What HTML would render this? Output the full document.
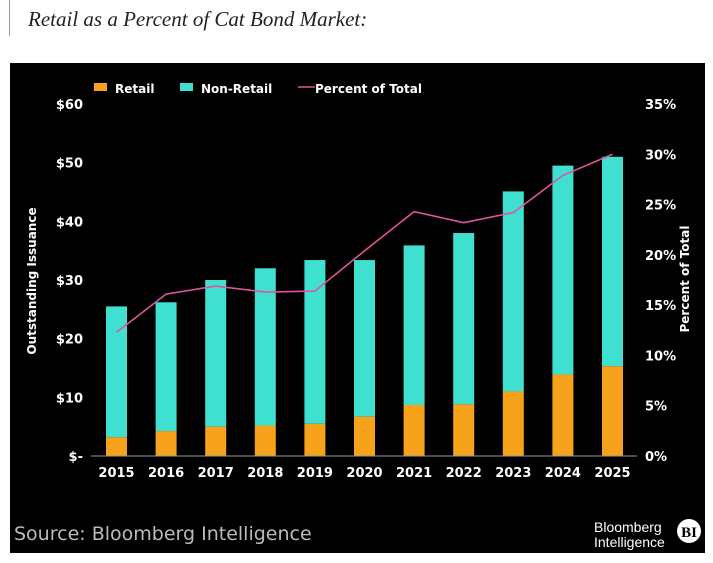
<!DOCTYPE html>
<html><head><meta charset="utf-8"><style>
body{margin:0;width:713px;height:563px;background:#fff;overflow:hidden;font-family:"Liberation Sans",sans-serif}
#title{position:absolute;left:28px;top:7px;font-family:"Liberation Serif",serif;font-style:italic;font-size:21px;color:#222}
#bar{position:absolute;left:9px;top:0;width:1px;height:36px;background:#999}
#panel{position:absolute;left:10px;top:63px}
</style></head><body>
<div id="bar"></div>
<div id="title">Retail as a Percent of Cat Bond Market:</div>
<svg id="panel" width="695" height="490"></svg>
<script>
const years=["2015","2016","2017","2018","2019","2020","2021","2022","2023","2024","2025"];
const totals=[25.5,26.2,30.0,32.0,33.4,33.4,35.9,38.0,45.1,49.5,51.0];
const retail=[3.2,4.25,5.0,5.2,5.5,6.7,8.7,8.8,11.0,13.9,15.3];
const pct=[12.3,16.1,16.9,16.3,16.4,20.4,24.3,23.2,24.2,27.9,30.0];
const leftTicks=["$-","$10","$20","$30","$40","$50","$60"];
const rightTicks=["0%","5%","10%","15%","20%","25%","30%","35%"];
const NS="http://www.w3.org/2000/svg";
const svg=document.getElementById('panel');
const ox=10,oy=63;
function yL(v){return 456-oy-(v/60)*352;}
function yR(v){return 456-oy-(v/35)*352;}
function xC(i){return 116.5-ox+i*49.6;}
function el(t,a,txt){const e=document.createElementNS(NS,t);for(const k in a)e.setAttribute(k,a[k]);if(txt!=null)e.textContent=txt;svg.appendChild(e);return e;}
let r=el('rect',{x:0,y:0,width:695,height:490,fill:'#000'});


const tf={fill:'#fff','font-family':'"DejaVu Sans",sans-serif','font-weight':'bold','font-size':13};
leftTicks.forEach((t,i)=>{const e=el('text',Object.assign({x:73,y:yL(i*10)+5,'text-anchor':'end'},tf),t);

});
rightTicks.forEach((t,i)=>{const e=el('text',Object.assign({x:635,y:yR(i*5)+5},tf),t);

});
years.forEach((y,i)=>{
 const x=xC(i),w=21;
 let b=el('rect',{x:x-w/2,y:yL(totals[i]),width:w,height:yL(retail[i])-yL(totals[i]),fill:'#40e0d0'});
 
 
 let b2=el('rect',{x:x-w/2,y:yL(retail[i]),width:w,height:yL(0)-yL(retail[i]),fill:'#f7a21b'});
 
 
 let t=el('text',Object.assign({x:x,y:414,'text-anchor':'middle'},tf),y);
 
 
});
let ax=el('line',{x1:81,x2:627,y1:yL(0),y2:yL(0),stroke:'#999','stroke-width':1});


let pl=el('polyline',{points:pct.map((v,i)=>xC(i)+','+yR(v)).join(' '),fill:'none',stroke:'#e0559a','stroke-width':1.6});


let yt=el('text',Object.assign({transform:'translate(26,218) rotate(-90)','text-anchor':'middle'},tf,{'font-size':12}),'Outstanding Issuance');


let yt2=el('text',Object.assign({transform:'translate(679,216) rotate(-90)','text-anchor':'middle'},tf,{'font-size':12}),'Percent of Total');


let l1=el('rect',{x:84,y:20,width:13,height:8,fill:'#f7a21b'});
let lt1=el('text',Object.assign({x:105,y:30},tf,{'font-size':12}),'Retail');
let l2=el('rect',{x:170,y:20,width:13,height:8,fill:'#40e0d0'});
let lt2=el('text',Object.assign({x:191,y:30},tf,{'font-size':12}),'Non-Retail');
let l3=el('line',{x1:288,x2:305,y1:24,y2:24,stroke:'#e0559a','stroke-width':1.6});
let lt3=el('text',Object.assign({x:305,y:30},tf,{'font-size':12}),'Percent of Total');
let src=el('text',{x:4,y:477,fill:'#bbb','font-family':'"DejaVu Sans",sans-serif','font-size':19},'Source: Bloomberg Intelligence');

let bb=el('text',{x:584,y:469,fill:'#fff','font-family':'"Liberation Sans",sans-serif','font-size':14},'Bloomberg');
let bi=el('text',{x:584,y:484,fill:'#fff','font-family':'"Liberation Sans",sans-serif','font-size':14},'Intelligence');
let c=el('circle',{cx:679,cy:468,r:12,fill:'#fff'});
let ct=el('text',{x:679,y:474,fill:'#000','text-anchor':'middle','font-family':'"Liberation Serif",serif','font-weight':'bold','font-size':15},'BI');
</script>
</body></html>
